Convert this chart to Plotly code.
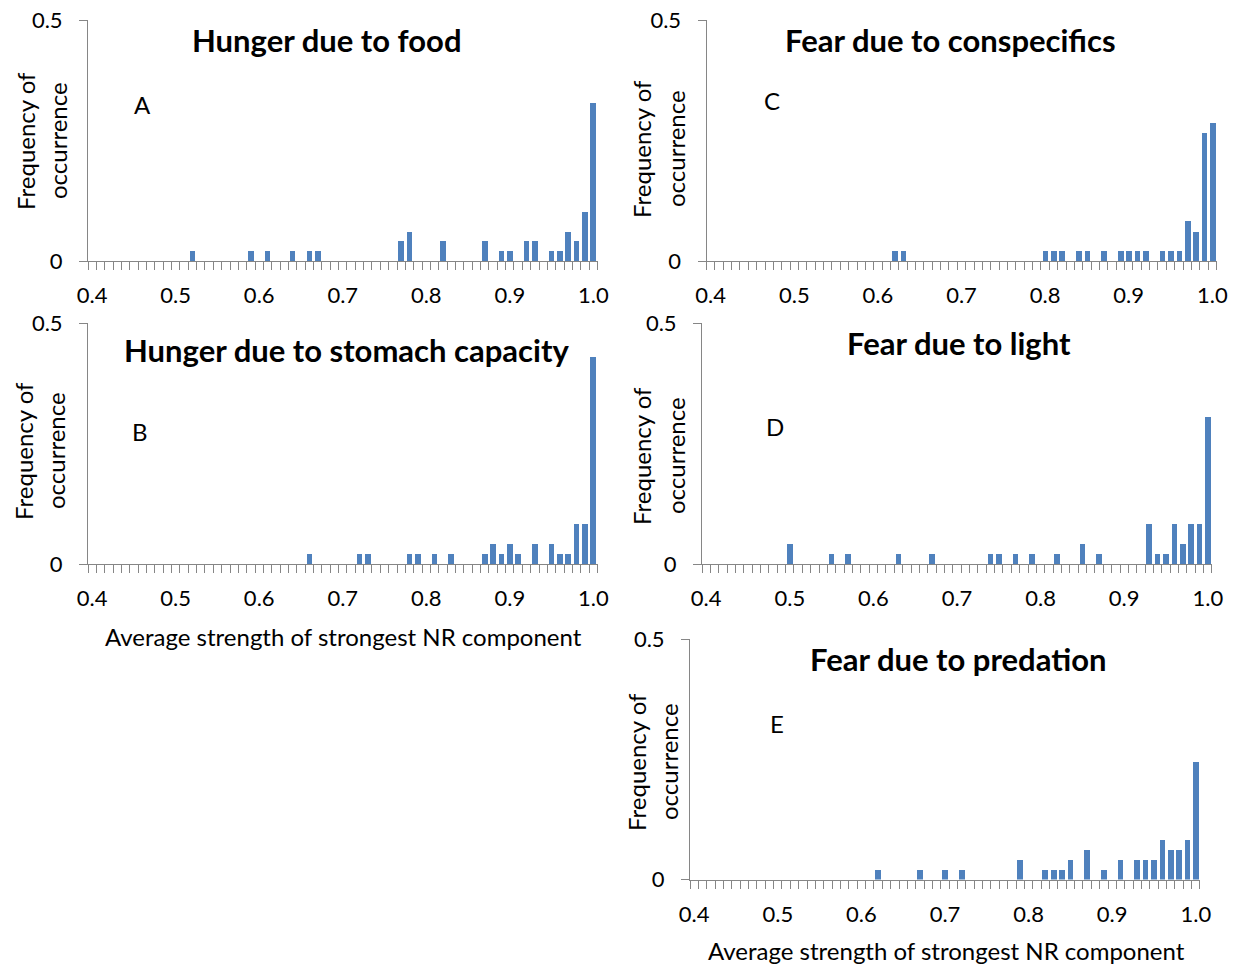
import plotly.graph_objects as go

W, H = 1238, 966
BLUE = "#4F81BD"
GRAY = "#868686"
FONT = "Lato"

# ---- data (frequency of occurrence per 0.01 bin of strength) ----
a_x = [0.52, 0.59, 0.61, 0.64, 0.66, 0.67, 0.77, 0.78, 0.82, 0.87, 0.89, 0.90, 0.92, 0.93, 0.95, 0.96, 0.97, 0.98, 0.99, 1.00]
a_y = [0.020, 0.020, 0.020, 0.020, 0.020, 0.020, 0.041, 0.061, 0.041, 0.041, 0.020, 0.020, 0.041, 0.041, 0.020, 0.020, 0.061, 0.041, 0.102, 0.327]

b_x = [0.66, 0.72, 0.73, 0.78, 0.79, 0.81, 0.83, 0.87, 0.88, 0.89, 0.90, 0.91, 0.93, 0.95, 0.96, 0.97, 0.98, 0.99, 1.00]
b_y = [0.020, 0.020, 0.020, 0.020, 0.020, 0.020, 0.020, 0.020, 0.041, 0.020, 0.041, 0.020, 0.041, 0.041, 0.020, 0.020, 0.082, 0.082, 0.429]

c_x = [0.62, 0.63, 0.80, 0.81, 0.82, 0.84, 0.85, 0.87, 0.89, 0.90, 0.91, 0.92, 0.94, 0.95, 0.96, 0.97, 0.98, 0.99, 1.00]
c_y = [0.020, 0.020, 0.020, 0.020, 0.020, 0.020, 0.020, 0.020, 0.020, 0.020, 0.020, 0.020, 0.020, 0.020, 0.020, 0.082, 0.061, 0.265, 0.286]

d_x = [0.50, 0.55, 0.57, 0.63, 0.67, 0.74, 0.75, 0.77, 0.79, 0.82, 0.85, 0.87, 0.93, 0.94, 0.95, 0.96, 0.97, 0.98, 0.99, 1.00]
d_y = [0.041, 0.020, 0.020, 0.020, 0.020, 0.020, 0.020, 0.020, 0.020, 0.020, 0.041, 0.020, 0.082, 0.020, 0.020, 0.082, 0.041, 0.082, 0.082, 0.306]

e_x = [0.62, 0.67, 0.70, 0.72, 0.79, 0.82, 0.83, 0.84, 0.85, 0.87, 0.89, 0.91, 0.93, 0.94, 0.95, 0.96, 0.97, 0.98, 0.99, 1.00]
e_y = [0.020, 0.020, 0.020, 0.020, 0.041, 0.020, 0.020, 0.020, 0.041, 0.061, 0.020, 0.041, 0.041, 0.041, 0.041, 0.082, 0.061, 0.061, 0.082, 0.245]

x_tickvals = [0.4, 0.5, 0.6, 0.7, 0.8, 0.9, 1.0]
x_ticktext = ["0.4", "0.5", "0.6", "0.7", "0.8", "0.9", "1.0"]
y_tickvals = [0, 0.5]
y_ticktext = ["0", "0.5"]

titles = ["Hunger due to food", "Hunger due to stomach capacity", "Fear due to conspecifics",
          "Fear due to light", "Fear due to predation"]
letters = ["A", "B", "C", "D", "E"]
x_title = "Average strength of strongest NR component"

# ---- layout geometry (pixels) ----
panels = [
    dict(x=a_x, y=a_y, px=(88, 597.5), py=(20, 261), t=(326, 40), l=(142, 104), yl=(25, 57), yly=141),
    dict(x=b_x, y=b_y, px=(88, 597.5), py=(323, 564), t=(347, 350), l=(140, 431), yl=(23, 55), yly=451),
    dict(x=c_x, y=c_y, px=(706.5, 1216.5), py=(20, 261), t=(950, 40), l=(772, 101), yl=(641, 675), yly=149),
    dict(x=d_x, y=d_y, px=(702, 1212), py=(323, 564), t=(959, 343), l=(775, 426), yl=(641, 675), yly=456),
    dict(x=e_x, y=e_y, px=(690, 1200), py=(639, 879.5), t=(958, 659), l=(777, 723), yl=(636, 668), yly=762),
]

fig = go.Figure()
annotations = []


def fx(p):
    return p / W


def fy(p):
    return 1 - p / H


for i, p in enumerate(panels):
    n = "" if i == 0 else str(i + 1)
    fig.add_trace(go.Bar(x=p["x"], y=p["y"], width=0.0068, marker=dict(color=BLUE, line=dict(width=0)),
                         xaxis="x" + n, yaxis="y" + n, showlegend=False, hoverinfo="x+y"))
    fig.layout["xaxis" + n] = dict(
        domain=[fx(p["px"][0]), fx(p["px"][1])], anchor="y" + n, range=[0.39499, 1.00501],
        automargin=False,
        showline=True, linecolor=GRAY, linewidth=1, showgrid=False, zeroline=False,
        tickmode="array", tickvals=x_tickvals, ticktext=x_ticktext, ticks="outside", ticklen=0,
        tickcolor=GRAY, ticklabelstandoff=15,
        minor=dict(ticks="outside", tickmode="linear", tick0=0.395, dtick=0.01, ticklen=8,
                   tickcolor=GRAY, tickwidth=1, showgrid=False),
        tickfont=dict(family=FONT, size=22, color="#000000"), fixedrange=True)
    fig.layout["yaxis" + n] = dict(
        domain=[fy(p["py"][1]), fy(p["py"][0])], anchor="x" + n, range=[0, 0.5],
        automargin=False,
        showline=True, linecolor=GRAY, linewidth=1, showgrid=False, zeroline=False,
        tickmode="array", tickvals=y_tickvals, ticktext=y_ticktext, ticks="outside", ticklen=8,
        tickcolor=GRAY, ticklabelstandoff=12,
        tickfont=dict(family=FONT, size=22, color="#000000"), fixedrange=True)
    annotations.append(dict(text="<b>" + titles[i] + "</b>", x=fx(p["t"][0]), y=fy(p["t"][1]),
                            xref="paper", yref="paper", xanchor="center", yanchor="middle",
                            showarrow=False, font=dict(family=FONT, size=31, color="#000000")))
    annotations.append(dict(text=letters[i], x=fx(p["l"][0]), y=fy(p["l"][1]),
                            xref="paper", yref="paper", xanchor="center", yanchor="middle",
                            showarrow=False, font=dict(family=FONT, size=24, color="#000000")))
    for k, line in enumerate(["Frequency of", "occurrence"]):
        annotations.append(dict(text=line, x=fx(p["yl"][k]), y=fy(p["yly"]), textangle=-90,
                                xref="paper", yref="paper", xanchor="center", yanchor="middle",
                                showarrow=False, font=dict(family=FONT, size=24, color="#000000")))

annotations.append(dict(text=x_title, x=fx(343), y=fy(636), xref="paper", yref="paper",
                        xanchor="center", yanchor="middle", showarrow=False,
                        font=dict(family=FONT, size=24, color="#000000")))
annotations.append(dict(text=x_title, x=fx(946), y=fy(950), xref="paper", yref="paper",
                        xanchor="center", yanchor="middle", showarrow=False,
                        font=dict(family=FONT, size=24, color="#000000")))

fig.update_layout(width=W, height=H, margin=dict(l=0, r=0, t=0, b=0, autoexpand=False),
                  paper_bgcolor="white", plot_bgcolor="white", bargap=0,
                  annotations=annotations, font=dict(family=FONT))

fig.write_html("out.html", config={"displayModeBar": False})
